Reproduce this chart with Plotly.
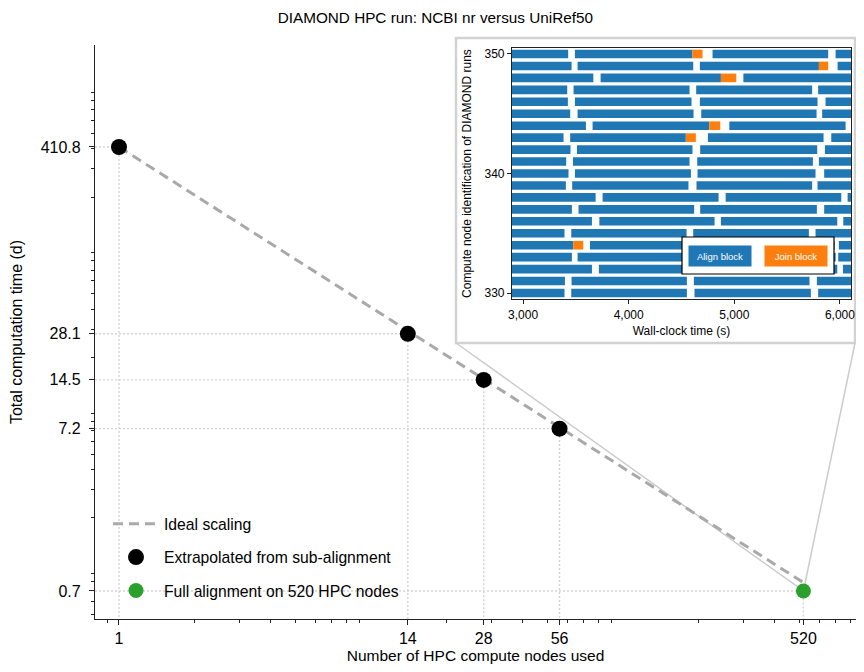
import math
import plotly.graph_objects as go

# ---------------- main panel data ----------------
sub_nodes = [1, 14, 28, 56]
sub_days = [410.8, 28.1, 14.5, 7.2]
full_nodes = [520]
full_days = [0.7]
ideal_nodes = [1, 520]
ideal_days = [410.8, 0.79]
x_tick_vals = [1, 14, 28, 56, 520]
x_tick_text = ["1", "14", "28", "56", "520"]
y_tick_vals = [0.7, 7.2, 14.5, 28.1, 410.8]
y_tick_text = ["0.7", "7.2", "14.5", "28.1", "410.8"]

# ---------------- inset data (wall-clock seconds) ----------------
align_node = [350]*4 + [349]*4 + [348]*3 + [347]*4 + [346]*4 + [345]*4 + [344]*4 + [343]*4 + [342]*4 \
    + [341]*4 + [340]*4 + [339]*4 + [338]*4 + [337]*4 + [336]*4 + [335]*4 + [334]*4 + [333]*4 \
    + [332]*4 + [331]*4 + [330]*4
align_start = [2300, 3491, 4794, 5959,
               2300, 3516, 4674, 5978,
               2300, 3734, 5086,
               2300, 3478, 4639, 5794,
               2300, 3491, 4674, 5864,
               2300, 3516, 4687, 5832,
               2300, 3658, 4953, 6110,
               2300, 3446, 4750, 5918,
               2300, 3510, 4677, 5858,
               2300, 3472, 4649, 5801,
               2300, 3491, 4652, 5851,
               2300, 3465, 4642, 5788,
               2300, 3753, 4918, 6073,
               2300, 3525, 4677, 5851,
               2300, 3722, 4873, 6032,
               2300, 3456, 4611, 5769,
               2300, 3633, 4790, 5990,
               2300, 3516, 4650, 5984,
               2300, 3718, 4840, 6029,
               2300, 3459, 4617, 5782,
               2300, 3456, 4623, 5794]
align_end = [3427, 4604, 5889, 7200,
             3459, 4611, 5801, 7200,
             3665, 4873, 7200,
             3418, 4576, 5737, 7200,
             3424, 4595, 5788, 7200,
             3446, 4614, 5779, 7200,
             3595, 4763, 6054, 7200,
             3383, 4541, 5845, 7200,
             3449, 4604, 5785, 7200,
             3408, 4576, 5744, 7200,
             3430, 4589, 5769, 7200,
             3405, 4566, 5737, 7200,
             3687, 4851, 6013, 7200,
             3462, 4620, 5782, 7200,
             3652, 4813, 5975, 7200,
             3392, 4548, 5706, 7200,
             3475, 4740, 5950, 7200,
             3462, 4620, 5960, 7200,
             3652, 4810, 5975, 7200,
             3396, 4551, 5712, 7200,
             3392, 4551, 5725, 7200]
join_node = [350, 349, 348, 344, 343, 334]
join_start = [4604, 5801, 4873, 4763, 4541, 3475]
join_end = [4699, 5889, 5019, 4867, 4636, 3570]
inset_x_ticks = [3000, 4000, 5000, 6000]
inset_y_ticks = [330, 340, 350]

# ---------------- geometry ----------------
# page body has an 8px margin; keep the figure inside the 864x672 window
W, H = 848, 656
OFF = 8
ML, MR, MT, MB = 87, 0, 37, 45
PW, PH = W - ML - MR, H - MT - MB
XR = [-0.0952, 2.9246]
YR = [-0.3296, 3.2496]


def px_x(p):
    return (p - OFF - ML) / PW


def px_y(p):
    return (H - MB - (p - OFF)) / PH


FONT = "Liberation Sans, Arial, Helvetica, sans-serif"
BLUE, ORANGE, GREEN = "#1f77b4", "#ff7f0e", "#2ca02c"
x_min, y_min = 10 ** XR[0], 10 ** YR[0]

fig = go.Figure()

# drop lines from each point to the axes
for xs, ys in ((sub_nodes, sub_days), (full_nodes, full_days)):
    for xv, yv in zip(xs, ys):
        fig.add_trace(go.Scatter(
            x=[x_min, xv, xv], y=[yv, yv, y_min], mode="lines",
            line=dict(color="#d4d4d4", width=1.4, dash="2px,2px"),
            showlegend=False, hoverinfo="skip"))

fig.add_trace(go.Scatter(
    x=ideal_nodes, y=ideal_days, mode="lines", name="Ideal scaling",
    line=dict(color="#a9a9a9", width=3, dash="10px,6px"), legendgroup="a"))
fig.add_trace(go.Scatter(
    x=sub_nodes, y=sub_days, mode="markers", name="Extrapolated from sub-alignment",
    marker=dict(color="black", size=16), legendgroup="b"))
fig.add_trace(go.Scatter(
    x=full_nodes, y=full_days, mode="markers", name="Full alignment on 520 HPC nodes",
    marker=dict(color=GREEN, size=15), legendgroup="c"))

# inset Gantt bars
fig.add_trace(go.Bar(
    orientation="h", y=align_node, base=align_start,
    x=[e - s for s, e in zip(align_start, align_end)],
    width=0.72, marker=dict(color=BLUE, line=dict(width=0)),
    xaxis="x2", yaxis="y2", showlegend=False, hoverinfo="skip"))
fig.add_trace(go.Bar(
    orientation="h", y=join_node, base=join_start,
    x=[e - s for s, e in zip(join_start, join_end)],
    width=0.72, marker=dict(color=ORANGE, line=dict(width=0)),
    xaxis="x2", yaxis="y2", showlegend=False, hoverinfo="skip"))

minor_x = [m * 10 ** e for e in (-1, 0, 1, 2) for m in range(2, 10)]
minor_y = [m * 10 ** e for e in (-1, 0, 1, 2) for m in range(2, 10)]

# connector lines from inset frame to the full-alignment point
gx = (math.log10(full_nodes[0]) - XR[0]) / (XR[1] - XR[0])
gy = (math.log10(full_days[0]) - YR[0]) / (YR[1] - YR[0])
bx0, bx1, by0, by1 = px_x(456), px_x(855), px_y(343), px_y(38)

shapes = [
    dict(type="rect", xref="paper", yref="paper", x0=bx0, x1=bx1, y0=by0, y1=by1,
         line=dict(color="#d2d2d2", width=2.5), fillcolor="white", layer="below"),
    dict(type="line", xref="paper", yref="paper", x0=bx0, y0=by0, x1=gx, y1=gy,
         line=dict(color="#cccccc", width=1.5), layer="below"),
    dict(type="line", xref="paper", yref="paper", x0=bx1, y0=by0, x1=gx, y1=gy,
         line=dict(color="#cccccc", width=1.5), layer="below"),
    dict(type="rect", xref="paper", yref="paper",
         x0=px_x(682), x1=px_x(834), y0=px_y(274), y1=px_y(237),
         line=dict(color="black", width=1.2), fillcolor="white", layer="above"),
]

annotations = [
    dict(text="Align block", xref="paper", yref="paper", x=px_x(720), y=px_y(256),
         xanchor="center", yanchor="middle",
         showarrow=False, bgcolor=BLUE, width=60, height=18,
         font=dict(color="white", size=9.5, family=FONT)),
    dict(text="Join block", xref="paper", yref="paper", x=px_x(795.5), y=px_y(256),
         xanchor="center", yanchor="middle",
         showarrow=False, bgcolor=ORANGE, width=60, height=18,
         font=dict(color="white", size=9.5, family=FONT)),
]

axis_common = dict(showline=True, linecolor="#222", linewidth=1.2, ticks="outside",
                   tickcolor="#222", ticklen=5, tickwidth=1, showgrid=False, zeroline=False,
                   automargin=False)

fig.update_layout(
    width=W, height=H,
    margin=dict(l=ML, r=MR, t=MT, b=MB),
    paper_bgcolor="white", plot_bgcolor="rgba(0,0,0,0)",
    font=dict(family=FONT, size=15, color="black"),
    title=dict(text="DIAMOND HPC run: NCBI nr versus UniRef50", x=px_x(478.5), xanchor="center",
               y=1 - (18 - OFF) / H, yanchor="middle", font=dict(size=15.3)),
    barmode="overlay",
    showlegend=True,
    legend=dict(x=px_x(108), y=px_y(507), xanchor="left", yanchor="top",
                bgcolor="rgba(0,0,0,0)", font=dict(size=15.7), itemwidth=46,
                tracegroupgap=10),
    xaxis=dict(type="log", range=XR, tickmode="array", tickvals=x_tick_vals, ticktext=x_tick_text,
               tickfont=dict(size=16), ticklabelstandoff=0,
               title=dict(text="Number of HPC compute nodes used", standoff=2, font=dict(size=15.5)),
               minor=dict(tickmode="array", tickvals=minor_x, ticks="outside", ticklen=3,
                          tickcolor="#222"),
               domain=[0, 1], anchor="y", **axis_common),
    yaxis=dict(type="log", range=YR, tickmode="array", tickvals=y_tick_vals, ticktext=y_tick_text,
               tickfont=dict(size=16), ticklabelstandoff=5,
               title=dict(text="Total computation time (d)", standoff=14, font=dict(size=16)),
               minor=dict(tickmode="array", tickvals=minor_y, ticks="outside", ticklen=3,
                          tickcolor="#222"),
               domain=[0, 1], anchor="x", **axis_common),
    xaxis2=dict(domain=[px_x(512), px_x(851)], anchor="y2", range=[2895, 6105],
                tickmode="array", tickvals=inset_x_ticks, tickformat=",d",
                showline=True, mirror=True, linecolor="#222", linewidth=1.2,
                ticks="outside", ticklen=4, tickcolor="#222", showgrid=False, zeroline=False,
                automargin=False,
                tickfont=dict(size=12), title=dict(text="Wall-clock time (s)", font=dict(size=12),
                                                  standoff=6)),
    yaxis2=dict(domain=[px_y(299), px_y(48)], anchor="x2", range=[329.5, 350.5],
                tickmode="array", tickvals=inset_y_ticks,
                showline=True, mirror=True, linecolor="#222", linewidth=1.2,
                ticks="outside", ticklen=4, tickcolor="#222", showgrid=False, zeroline=False,
                automargin=False,
                tickfont=dict(size=12),
                title=dict(text="Compute node identification of DIAMOND runs",
                           font=dict(size=12), standoff=10)),
    shapes=shapes,
    annotations=annotations,
)

fig.write_html("out.html")
